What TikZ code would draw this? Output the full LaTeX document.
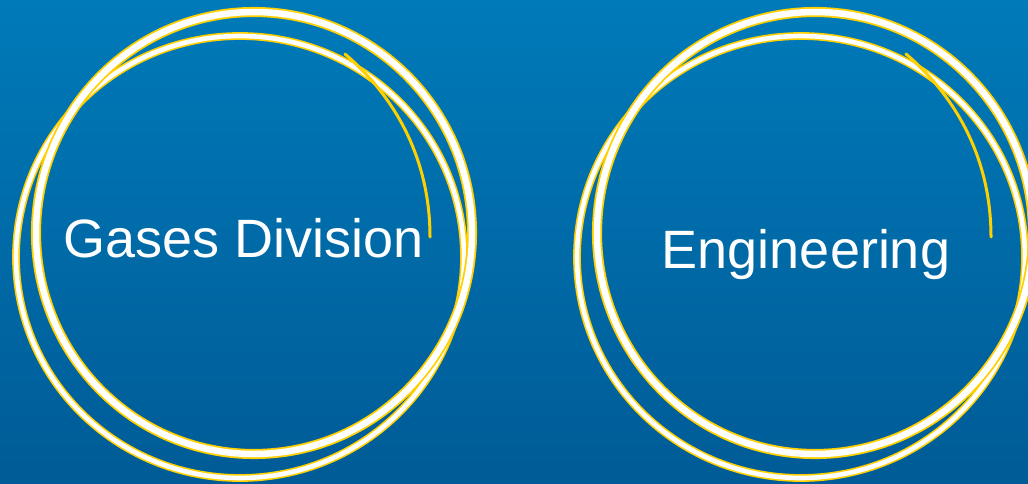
\documentclass[tikz,border=0pt]{standalone}
\usepackage{fontspec}
\setmainfont{Liberation Sans}
\definecolor{bgtop}{RGB}{0,122,185}
\definecolor{bgbottom}{RGB}{0,91,150}
\definecolor{pen}{RGB}{255,208,0}

\begin{document}
\begin{tikzpicture}[x=1pt, y=-1pt,
    outerloop/.style={draw=pen, line width=1.8pt, double=white, double distance=6.5pt},
    innerloop/.style={draw=pen, line width=1.6pt, double=white, double distance=4.6pt},
    brushtail/.style={draw=pen, line width=3pt, line cap=round},
    titletext/.style={text=white, inner sep=0pt, anchor=base, font=\fontsize{54}{60}\selectfont}
  ]
  \useasboundingbox (0,0) rectangle (1028,484);
  \shade[top color=bgtop, bottom color=bgbottom] (0,0) rectangle (1028,484);
  \clip (0,0) rectangle (1028,484);

  % two scribbled rings
  \foreach \dx in {0,561} {
    \begin{scope}[xshift=\dx pt]
      \draw[innerloop] (240,257) ellipse [x radius=224, y radius=221];
      \draw[outerloop] (254,233) ellipse [x radius=218, y radius=221];
      \draw[brushtail] (345,54) .. controls (402,103) and (430,167) .. (430,237);
    \end{scope}
  }

  \node[titletext] (gases) at (244,257) {Gases Division};
  \node[titletext] (engineering) at (806,268) {Engineering};
\end{tikzpicture}
\end{document}
